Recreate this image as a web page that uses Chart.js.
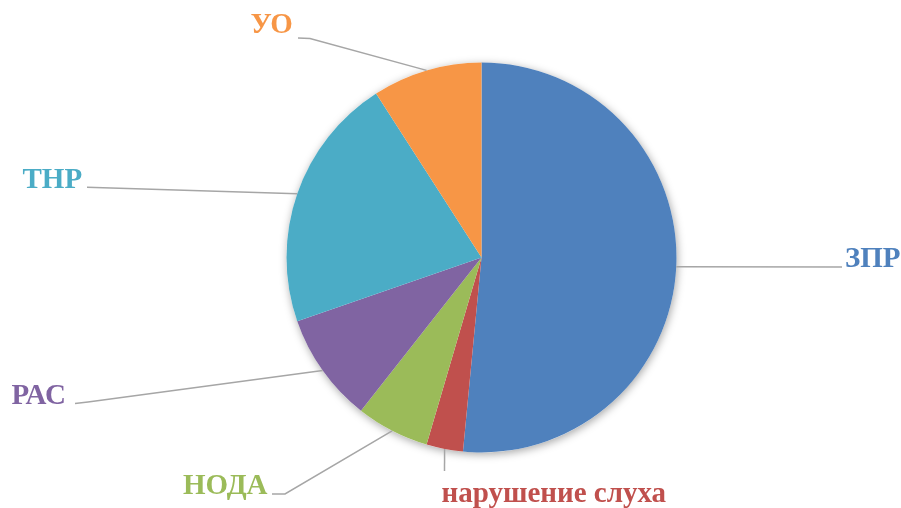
<!DOCTYPE html>
<html>
<head>
<meta charset="utf-8">
<script src="https://cdn.jsdelivr.net/npm/chart.js@4.4.1/dist/chart.umd.min.js"></script>
<style>
html,body{margin:0;padding:0;background:#fff;}
#wrap{width:901px;height:508px;position:relative;}
</style>
</head>
<body>
<div id="wrap"><canvas id="c" width="901" height="508"></canvas></div>
<script>
const categories = ['ЗПР', 'нарушение слуха', 'НОДА', 'РАС', 'ТНР', 'УО'];
const values = [17, 1, 2, 3, 7, 3];
const colors = ['#4F81BD', '#C0504D', '#9BBB59', '#8064A2', '#4BACC6', '#F79646'];

// label layout (text anchor = left/baseline; leader start + elbow)
const labelLayout = [
  {tx: 845, ty: 267, start: [842, 267], elbow: [842, 267]},
  {tx: 441.5, ty: 501.5, start: [444.5, 471], elbow: [444.5, 471]},
  {tx: 183, ty: 494, start: [272, 494], elbow: [285, 494]},
  {tx: 11.5, ty: 404, start: [75, 403.5], elbow: [88, 402]},
  {tx: 22.5, ty: 187.5, start: [87, 187.3], elbow: [87, 187.3]},
  {tx: 250.5, ty: 33, start: [298, 38], elbow: [310, 38.5]}
];

const shadowPlugin = {
  id: 'pieShadow',
  beforeDatasetsDraw(chart) {
    const arc = chart.getDatasetMeta(0).data[0];
    if (!arc) return;
    const ctx = chart.ctx;
    ctx.save();
    ctx.shadowColor = 'rgba(0,0,0,0.35)';
    ctx.shadowBlur = 9;
    ctx.shadowOffsetX = 1;
    ctx.shadowOffsetY = 2;
    ctx.fillStyle = '#ffffff';
    ctx.beginPath();
    ctx.arc(arc.x, arc.y, arc.outerRadius, 0, Math.PI * 2);
    ctx.fill();
    ctx.restore();
  }
};

const labelPlugin = {
  id: 'leaderLabels',
  afterDatasetsDraw(chart) {
    const ctx = chart.ctx;
    const meta = chart.getDatasetMeta(0);
    ctx.save();
    meta.data.forEach((arc, i) => {
      const L = labelLayout[i];
      const mid = (arc.startAngle + arc.endAngle) / 2;
      const px = arc.x + Math.cos(mid) * arc.outerRadius;
      const py = arc.y + Math.sin(mid) * arc.outerRadius;
      ctx.strokeStyle = '#A6A6A6';
      ctx.lineWidth = 1.5;
      ctx.beginPath();
      ctx.moveTo(L.start[0], L.start[1]);
      ctx.lineTo(L.elbow[0], L.elbow[1]);
      ctx.lineTo(px, py);
      ctx.stroke();
      ctx.fillStyle = colors[i];
      ctx.font = 'bold 29px "Liberation Serif", "Times New Roman", serif';
      ctx.textAlign = 'left';
      ctx.textBaseline = 'alphabetic';
      ctx.fillText(categories[i], L.tx, L.ty);
    });
    ctx.restore();
  }
};

new Chart(document.getElementById('c'), {
  type: 'pie',
  data: {
    labels: categories,
    datasets: [{
      data: values,
      backgroundColor: colors,
      borderWidth: 0
    }]
  },
  options: {
    responsive: false,
    animation: false,
    layout: {padding: {top: 62.5, bottom: 55.5, left: 286.5, right: 224.5}},
    plugins: {
      legend: {display: false},
      tooltip: {enabled: false}
    }
  },
  plugins: [shadowPlugin, labelPlugin]
});
</script>
</body>
</html>
